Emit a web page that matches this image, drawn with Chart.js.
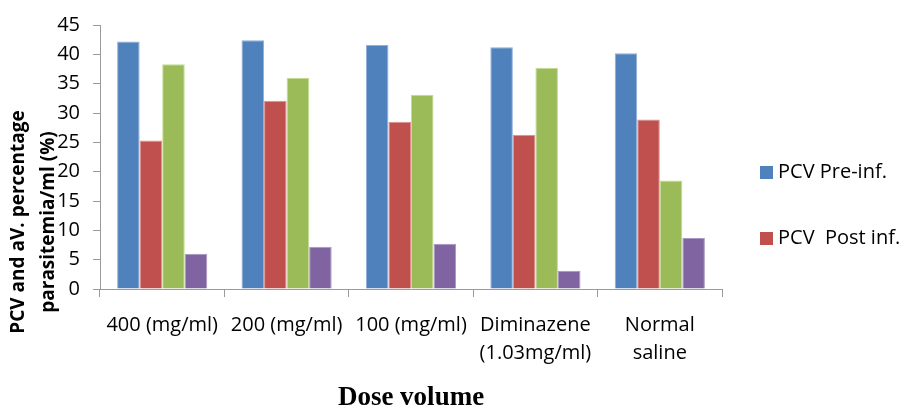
<!DOCTYPE html>
<html>
<head>
<meta charset="utf-8">
<script src="https://cdn.jsdelivr.net/npm/chart.js@4.4.0/dist/chart.umd.min.js"></script>
<style>
    html, body { margin: 0; padding: 0; background: #ffffff; }
</style>
</head>
<body>
<canvas id="barChart" width="899" height="412"></canvas>
<script>
    // categories (multi-line tick labels)
    var doseLabels = [
        ['400 (mg/ml)'],
        ['200 (mg/ml)'],
        ['100 (mg/ml)'],
        ['Diminazene', '(1.03mg/ml)'],
        ['Normal', 'saline']
    ];

    // series values
    var pcvPre = [42.2, 42.4, 41.6, 41.2, 40.2];
    var pcvPost = [25.3, 32.1, 28.5, 26.3, 28.9];
    var parasitemiaPre = [38.3, 36.0, 33.1, 37.7, 18.5];
    var parasitemiaPost = [6.0, 7.2, 7.7, 3.1, 8.7];

    var seriesNames = ['PCV Pre-inf.', 'PCV  Post inf.', 'Av. parasitemia Pre-inf.', 'Av. parasitemia Post inf.'];
    var yTicks = [0, 5, 10, 15, 20, 25, 30, 35, 40, 45];

    var yTitleLines = ['PCV and aV. percentage', 'parasitemia/ml (%)'];
    var xTitle = 'Dose volume';

    var colors = ['#4F81BD', '#C0504D', '#9BBB59', '#8064A2'];
    var edgeColors = ['#8FAEDA', '#DE8F8D', '#C3DB94', '#A996C4'];
    var axisGray = '#9A9A9A';
    var legendCount = 2; // only two entries are visible in the original

    // y axis title, drawn by hand so it can sit lower like the original
    var yTitlePlugin = {
        id: 'yTitle',
        afterDraw: function (chart) {
            var ctx = chart.ctx;
            ctx.save();
            ctx.font = 'bold 19px "Open Sans"';
            ctx.fillStyle = '#000000';
            ctx.textAlign = 'center';
            ctx.textBaseline = 'middle';
            var xs = [19, 49];
            for (var i = 0; i < yTitleLines.length; i++) {
                ctx.save();
                ctx.translate(xs[i], 222);
                ctx.rotate(-Math.PI / 2);
                ctx.fillText(yTitleLines[i], 0, 0);
                ctx.restore();
            }
            ctx.restore();
        }
    };

    // legend with wide row spacing
    var legendPlugin = {
        id: 'sideLegend',
        afterDraw: function (chart) {
            var ctx = chart.ctx;
            var x = chart.chartArea.right + 38;
            var rows = [172, 238];
            ctx.save();
            ctx.font = '20px "Open Sans"';
            ctx.textBaseline = 'middle';
            ctx.textAlign = 'left';
            for (var i = 0; i < legendCount; i++) {
                var ds = chart.data.datasets[i];
                ctx.fillStyle = ds.backgroundColor;
                ctx.fillRect(x, rows[i] - 6, 13, 13);
                ctx.fillStyle = '#000000';
                ctx.fillText(ds.label, x + 18, rows[i]);
            }
            ctx.restore();
        }
    };

    var allSeries = [pcvPre, pcvPost, parasitemiaPre, parasitemiaPost];
    var datasets = allSeries.map(function (values, i) {
        return {
            label: seriesNames[i],
            data: values,
            backgroundColor: colors[i],
            borderColor: edgeColors[i],
            borderWidth: 1,
            categoryPercentage: 0.725,
            barPercentage: 1.0
        };
    });

    var ctx = document.getElementById('barChart').getContext('2d');
    window.myChart = new Chart(ctx, {
        type: 'bar',
        data: {
            labels: doseLabels,
            datasets: datasets
        },
        options: {
            responsive: false,
            animation: false,
            layout: {
                padding: { left: 0, right: 177, top: 24, bottom: 0 }
            },
            plugins: {
                legend: { display: false },
                tooltip: { enabled: false }
            },
            scales: {
                x: {
                    grid: {
                        display: true,
                        drawOnChartArea: false,
                        drawTicks: true,
                        tickLength: 8,
                        color: axisGray,
                        offset: true
                    },
                    border: { color: axisGray, width: 1 },
                    ticks: {
                        color: '#000000',
                        font: { family: 'Open Sans', size: 20, lineHeight: 1.4 },
                        padding: 14,
                        maxRotation: 0,
                        autoSkip: false
                    },
                    title: {
                        display: true,
                        text: xTitle,
                        color: '#000000',
                        font: { family: 'Liberation Serif', size: 27, weight: 'bold', lineHeight: 1.0 },
                        padding: 0
                    },
                    afterFit: function (scale) {
                        scale.height = 123;
                    }
                },
                y: {
                    min: 0,
                    max: 45,
                    grid: {
                        display: true,
                        drawOnChartArea: false,
                        drawTicks: true,
                        tickLength: 7,
                        color: axisGray
                    },
                    border: { color: axisGray, width: 1 },
                    ticks: {
                        color: '#000000',
                        font: { family: 'Open Sans', size: 20 },
                        padding: 13
                    },
                    afterBuildTicks: function (axis) {
                        axis.ticks = yTicks.map(function (v) { return { value: v }; });
                    },
                    afterFit: function (scale) {
                        scale.width = 100;
                    }
                }
            }
        },
        plugins: [yTitlePlugin, legendPlugin]
    });
</script>
</body>
</html>
